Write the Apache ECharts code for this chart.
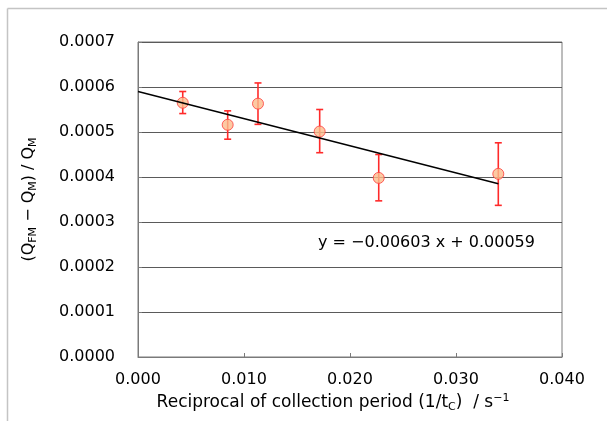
<!DOCTYPE html>
<html>
<head>
<meta charset="utf-8">
<script src="https://cdn.jsdelivr.net/npm/echarts@6/dist/echarts.min.js"></script>
<style>html,body{margin:0;padding:0;background:#fff;}#c{width:607px;height:421px;}</style>
</head>
<body>
<div id="c"></div>
<script>
// Data
var xValues = [0.00422, 0.00846, 0.01132, 0.01714, 0.02271, 0.03399];
var yValues = [0.000565, 0.000516, 0.000563, 0.000501, 0.000398, 0.000407];
var errHigh = [0.000590, 0.000547, 0.000609, 0.000550, 0.000450, 0.000476];
var errLow  = [0.000541, 0.000484, 0.000517, 0.000454, 0.000347, 0.000337];
var trendX = [0, 0.0340];
var trendY = [0.00059, 0.000385];
var xTicks = { min: 0, max: 0.04, interval: 0.01, decimals: 3 };
var yTicks = { min: 0, max: 0.0007, interval: 0.0001, decimals: 4 };
var equationText = 'y = \u22120.00603 x + 0.00059';

var font = 'DejaVu Sans, sans-serif';
var points = xValues.map(function (x, i) { return [x, yValues[i]]; });
var bars = xValues.map(function (x, i) { return [x, errLow[i], errHigh[i]]; });
var trend = trendX.map(function (x, i) { return [x, trendY[i]]; });

var chart = echarts.init(document.getElementById('c'), null, { renderer: 'canvas' });
chart.setOption({
  animation: false,
  backgroundColor: '#ffffff',
  grid: { left: 138, right: 45, top: 42, bottom: 64, show: true, borderColor: '#7a7a7a', borderWidth: 1, backgroundColor: 'transparent' },
  xAxis: {
    type: 'value', min: xTicks.min, max: xTicks.max, interval: xTicks.interval,
    axisLine: { show: true, lineStyle: { color: '#7a7a7a', width: 1 } },
    axisTick: { show: true, inside: true, length: 4, lineStyle: { color: '#7a7a7a' } },
    splitLine: { show: false },
    axisLabel: { color: '#000', fontFamily: font, fontSize: 16, margin: 15,
      formatter: function (v) { return v.toFixed(xTicks.decimals); } },
    name: 'Reciprocal of collection period (1/t{sub|C})  / s{sup|\u22121}',
    nameLocation: 'middle', nameGap: 36,
    nameTextStyle: { color: '#000', fontFamily: font, fontSize: 17, lineHeight: 20, padding: [0, 34, 0, 0],
      rich: {
        sub: { fontFamily: font, fontSize: 11, lineHeight: 10, verticalAlign: 'bottom', color: '#000' },
        sup: { fontFamily: font, fontSize: 11, lineHeight: 10, verticalAlign: 'top', color: '#000' }
      } }
  },
  yAxis: {
    type: 'value', min: yTicks.min, max: yTicks.max, interval: yTicks.interval,
    axisLine: { show: true, lineStyle: { color: '#7a7a7a', width: 1 } },
    axisTick: { show: true, inside: true, length: 4, lineStyle: { color: '#7a7a7a' } },
    splitLine: { show: true, lineStyle: { color: '#5a5a5a', width: 1 } },
    axisLabel: { color: '#000', fontFamily: font, fontSize: 16, margin: 23,
      formatter: function (v) { return v.toFixed(yTicks.decimals); } },
    name: '(Q{sub|FM} \u2212 Q{sub|M}) / Q{sub|M}',
    nameLocation: 'middle', nameGap: 99, nameRotate: 90,
    nameTextStyle: { color: '#000', fontFamily: font, fontSize: 16, lineHeight: 20,
      rich: {
        sub: { fontFamily: font, fontSize: 11, lineHeight: 10, verticalAlign: 'bottom', color: '#000' }
      } }
  },
  series: [
    {
      type: 'custom', z: 2,
      data: bars,
      renderItem: function (params, api) {
        var x = api.value(0);
        var lo = api.coord([x, api.value(1)]);
        var hi = api.coord([x, api.value(2)]);
        var w = 3.5;
        var st = { stroke: '#ff2a2a', lineWidth: 1.6 };
        return { type: 'group', children: [
          { type: 'line', shape: { x1: lo[0], y1: lo[1], x2: hi[0], y2: hi[1] }, style: st },
          { type: 'line', shape: { x1: hi[0] - w, y1: hi[1], x2: hi[0] + w, y2: hi[1] }, style: st },
          { type: 'line', shape: { x1: lo[0] - w, y1: lo[1], x2: lo[0] + w, y2: lo[1] }, style: st }
        ] };
      }
    },
    {
      type: 'scatter', z: 3, data: points, symbol: 'circle', symbolSize: 11,
      itemStyle: { color: '#fbbd8c', borderColor: '#ff3b3b', borderWidth: 1 }
    },
    {
      type: 'line', z: 4, data: trend, symbol: 'none',
      lineStyle: { color: '#000', width: 1.4 }
    }
  ],
  graphic: [
    { type: 'line', shape: { x1: 7.5, y1: 8.5, x2: 607, y2: 8.5 }, style: { stroke: '#c4c4c4', lineWidth: 1.5 } },
    { type: 'line', shape: { x1: 7.5, y1: 8.5, x2: 7.5, y2: 421 }, style: { stroke: '#c4c4c4', lineWidth: 1.5 } },
    { type: 'text', left: 318, top: 235, style: { text: equationText, fontFamily: font, fontSize: 16, fill: '#000' } }
  ]
});
</script>
</body>
</html>
